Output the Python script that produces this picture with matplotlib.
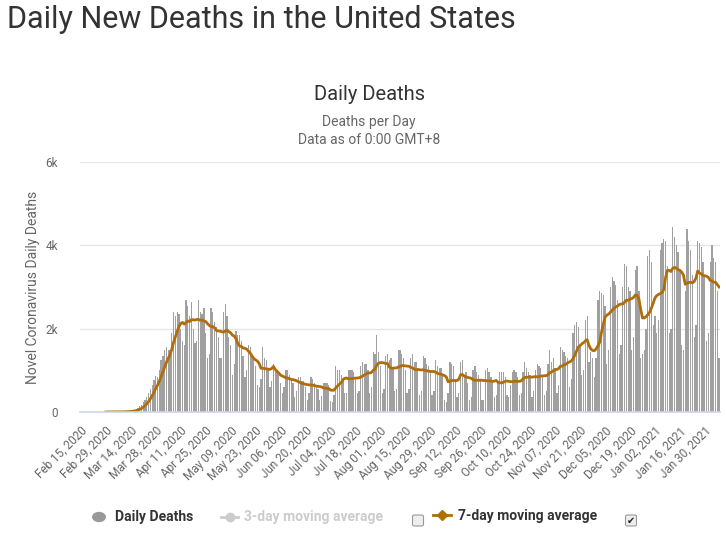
import matplotlib
matplotlib.use("Agg")
import matplotlib.pyplot as plt
from matplotlib.patches import FancyBboxPatch, Circle
from matplotlib.lines import Line2D
import pandas as pd
import numpy as np

plt.rcParams['font.family'] = ['Roboto', 'DejaVu Sans']

# ---------------- data (daily new deaths) ----------------
start_date = "2020-02-15"
feb20 = [0, 0, 0, 0, 0, 0, 0, 0, 0, 0, 0, 0, 0, 0, 1]
mar20 = [1, 4, 1, 4, 1, 2, 3, 4, 5, 8, 12, 15, 20, 25, 35, 50, 70, 100, 140, 180, 230,
         300, 360, 460, 560, 660, 760, 860, 850, 1000, 1250]
apr20 = [1350, 1500, 1550, 1500, 1500, 1900, 2400, 2300, 2400, 2350, 2000, 1700, 1600, 2700,
         2550, 2300, 2650, 2000, 1650, 1700, 2700, 2400, 2350, 2500, 1900, 1300, 1400, 2500,
         2400, 2150]
may20 = [2050, 1800, 1300, 1300, 2400, 2600, 2300, 1800, 1600, 900, 1150, 1950, 1850, 1850,
         1700, 1350, 850, 1000, 1600, 1550, 1350, 1300, 1100, 650, 600, 800, 1550, 1300, 1250,
         1050, 600]
jun20 = [750, 1150, 1050, 1000, 950, 700, 450, 600, 1000, 1000, 900, 800, 700, 350, 500, 850,
         850, 750, 750, 600, 300, 450, 850, 800, 700, 650, 550, 280, 380, 700]
jul20 = [700, 700, 650, 270, 250, 400, 1100, 1000, 1000, 900, 800, 450, 450, 1000, 1000, 1000,
         950, 850, 450, 500, 1100, 1200, 1150, 1150, 1000, 450, 600, 1450, 1400, 1850, 1450]
aug20 = [1100, 450, 550, 1350, 1400, 1250, 1300, 1050, 500, 550, 1500, 1500, 1400, 1300, 1000,
         450, 550, 1300, 1400, 1200, 1200, 1050, 400, 500, 1350, 1300, 1150, 1100, 1000, 400, 500]
sep20 = [1250, 1100, 1050, 1050, 870, 300, 250, 450, 1200, 1150, 1100, 800, 350, 450, 1200,
         1250, 900, 950, 700, 300, 350, 1000, 1100, 950, 900, 750, 280, 300, 1000, 1050]
oct20 = [950, 850, 700, 350, 400, 700, 950, 950, 950, 850, 400, 350, 650, 950, 1000, 950, 850,
         400, 450, 950, 1200, 1050, 950, 900, 350, 500, 1000, 1150, 1100, 1050, 900]
nov20 = [400, 500, 1150, 1500, 1200, 1300, 1050, 450, 650, 1550, 1500, 1450, 1350, 1300, 600,
         800, 1900, 2100, 2150, 2050, 1550, 900, 1000, 2200, 2300, 1200, 1450, 1300, 850, 1300]
dec20 = [2700, 2900, 2850, 2800, 2550, 1150, 1500, 3000, 3250, 3150, 3050, 2700, 1400, 1600,
         3000, 3550, 3500, 3000, 2900, 1500, 1800, 3400, 3500, 2900, 1300, 1400, 1500, 2000,
         3750, 3900, 3600]
jan21 = [2100, 2300, 1900, 2200, 3900, 4050, 4150, 4100, 3500, 1900, 2000, 4450, 4200, 4000,
         3850, 3400, 1600, 1500, 2900, 4400, 4100, 3900, 3300, 1800, 2100, 4100, 4050, 3950,
         3600, 3300, 1700]
feb21 = [1900, 3600, 4000, 3700, 3600, 2900, 1300]

daily_deaths = (feb20 + mar20 + apr20 + may20 + jun20 + jul20 + aug20 + sep20 + oct20 +
                nov20 + dec20 + jan21 + feb21)
dates = pd.date_range(start_date, periods=len(daily_deaths), freq="D")
y_ticks = [0, 2000, 4000, 6000]
y_tick_labels = ["0", "2k", "4k", "6k"]

# ---------------- figure ----------------
W, H = 726, 535
fig = plt.figure(figsize=(W / 100, H / 100), dpi=100)

def fx(x):
    return x / W

def fy(y):
    return 1 - y / H

ax = fig.add_axes([fx(80), fy(412), fx(720) - fx(80), fy(162) - fy(412)])

s = pd.Series(daily_deaths, dtype=float)
ma7 = s.rolling(7, min_periods=1).mean()
first = int(np.argmax(s.values > 0))
xs = np.arange(len(s))

ax.bar(xs, s.values, width=0.72, color="#a0a0a0", linewidth=0, zorder=2)
ax.plot(xs[first:], ma7.values[first:], color="#b06d0b", lw=2.0, zorder=3,
        solid_joinstyle="round")

ax.set_xlim(-0.5, len(s) - 0.5)
ax.set_ylim(0, 6000)
ax.set_yticks(y_ticks)
ax.set_yticklabels(y_tick_labels)
ax.grid(axis="y", color="#e6e6e6", lw=1, zorder=0)
ax.set_axisbelow(True)
for sp in ["top", "right", "left"]:
    ax.spines[sp].set_visible(False)
ax.spines["bottom"].set_color("#ccd6eb")
ax.spines["bottom"].set_linewidth(1.2)
ax.spines["bottom"].set_zorder(4)

tick_pos = list(range(0, len(s), 14))
ax.set_xticks(tick_pos)
ax.set_xticklabels([dates[i].strftime("%b %d, %Y") for i in tick_pos],
                   rotation=45, ha="right", va="top", rotation_mode="anchor",
                   fontsize=8.5, color="#666666")
ax.tick_params(axis="x", length=0, pad=9)
ax.tick_params(axis="y", length=0, pad=16, labelsize=8.5, labelcolor="#666666")
ax.set_ylabel("Novel Coronavirus Daily Deaths", fontsize=10, color="#666666", labelpad=4)

# ---------------- titles ----------------
fig.text(fx(7), fy(19), "Daily New Deaths in the United States", fontsize=22,
         color="#333333", ha="left", va="center")
fig.text(fx(369), fy(95), "Daily Deaths", fontsize=14.5, color="#333333",
         ha="center", va="center")
fig.text(fx(369), fy(122), "Deaths per Day", fontsize=10, color="#666666",
         ha="center", va="center")
fig.text(fx(369), fy(140), "Data as of 0:00 GMT+8", fontsize=10, color="#666666",
         ha="center", va="center")

# ---------------- legend ----------------
ly = 517
fig.patches.append(Circle((fx(99), fy(ly)), 7 / W, transform=fig.transFigure,
                          facecolor="#999999", edgecolor="none"))
fig.text(fx(115), fy(ly), "Daily Deaths", fontsize=10, fontweight="bold",
         color="#333333", ha="left", va="center")
fig.lines.append(Line2D([fx(221), fx(238)], [fy(ly), fy(ly)], transform=fig.transFigure,
                        color="#cccccc", lw=2))
fig.lines.append(Line2D([fx(229.5)], [fy(ly)], transform=fig.transFigure,
                        color="#cccccc", marker="o", markersize=6, lw=0))
fig.text(fx(244), fy(ly), "3-day moving average", fontsize=10, fontweight="bold",
         color="#cccccc", ha="left", va="center")
fig.lines.append(Line2D([fx(433), fx(451)], [fy(ly - 2), fy(ly - 2)], transform=fig.transFigure,
                        color="#b06d0b", lw=2))
fig.lines.append(Line2D([fx(442)], [fy(ly - 2)], transform=fig.transFigure,
                        color="#b06d0b", marker="D", markersize=5, lw=0))
fig.text(fx(458), fy(ly - 1), "7-day moving average", fontsize=10, fontweight="bold",
         color="#333333", ha="left", va="center")

for cx, checked in [(418, False), (631, True)]:
    box = FancyBboxPatch((fx(cx - 5.5), fy(526)), 11 / W, 11 / H,
                         boxstyle="round,pad=0,rounding_size=0.003",
                         transform=fig.transFigure, facecolor="#eeeeee",
                         edgecolor="#999999", lw=0.8)
    fig.patches.append(box)
    if checked:
        fig.text(fx(cx), fy(520.5), "\u2714", fontsize=7, color="#222222",
                 ha="center", va="center", family=["DejaVu Sans"])

fig.savefig("out.png", dpi=100)
